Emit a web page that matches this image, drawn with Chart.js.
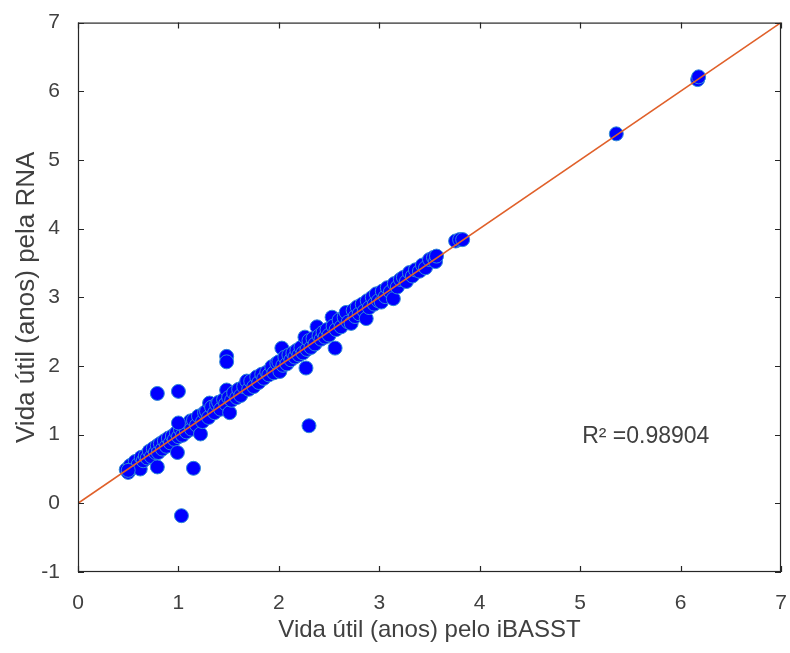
<!DOCTYPE html>
<html>
<head>
<meta charset="utf-8">
<script src="https://cdn.jsdelivr.net/npm/chart.js@4.4.1/dist/chart.umd.min.js"></script>
<style>
  html, body { margin: 0; padding: 0; background: #ffffff; }
  #wrap { width: 790px; height: 653px; }
</style>
</head>
<body>
<div id="wrap"><canvas id="scatterChart" width="790" height="653"></canvas></div>
<script>
// vida útil estimada pelo iBASST (x) e pela RNA (y)
const ibasstX = [
  0.48, 0.50, 0.52, 0.55, 0.57, 0.60, 0.62, 0.63, 0.65, 0.67,
  0.69, 0.71, 0.73, 0.75, 0.77, 0.79, 0.80, 0.82, 0.84, 0.86,
  0.88, 0.90, 0.92, 0.94, 0.96, 0.98, 1.00, 1.02, 1.04, 1.06,
  1.08, 1.10, 1.12, 1.13, 1.15, 1.18, 1.20, 1.22, 1.24, 1.26,
  1.28, 1.30, 1.31, 1.33, 1.36, 1.38, 1.40, 1.42, 1.45, 1.47,
  1.48, 1.50, 1.51, 1.53, 1.55, 1.58, 1.60, 1.62, 1.65, 1.68,
  1.70, 1.72, 1.75, 1.78, 1.80, 1.83, 1.85, 1.88, 1.90, 1.93,
  1.95, 1.98, 2.00, 2.01, 2.03, 2.04, 2.06, 2.08, 2.10, 2.12,
  2.14, 2.16, 2.18, 2.20, 2.22, 2.24, 2.26, 2.28, 2.30, 2.32,
  2.34, 2.36, 2.38, 2.40, 2.42, 2.44, 2.46, 2.48, 2.50, 2.53,
  2.54, 2.56, 2.57, 2.60, 2.62, 2.65, 2.67, 2.69, 2.72, 2.74,
  2.76, 2.78, 2.80, 2.83, 2.85, 2.87, 2.88, 2.90, 2.93, 2.95,
  2.97, 2.99, 3.02, 3.03, 3.06, 3.08, 3.11, 3.14, 3.15, 3.18,
  3.21, 3.24, 3.27, 3.30, 3.33, 3.36, 3.40, 3.43, 3.46, 3.50,
  3.54, 3.56, 3.57, 3.76, 3.80, 3.83, 5.36, 6.17, 6.18,
  0.79, 1.00, 1.48, 1.48, 2.30, 1.03, 0.79, 1.15, 0.99, 1.00,
  2.27, 0.50
];
const rnaY = [
  0.49, 0.45, 0.55, 0.52, 0.61, 0.57, 0.50, 0.67, 0.62, 0.69,
  0.66, 0.76, 0.68, 0.80, 0.74, 0.84, 0.74, 0.87, 0.79, 0.91,
  0.83, 0.95, 0.88, 0.98, 0.93, 1.03, 0.97, 1.08, 0.99, 1.12,
  1.04, 1.16, 1.20, 1.08, 1.21, 1.14, 1.27, 1.01, 1.19, 1.32,
  1.34, 1.25, 1.46, 1.40, 1.32, 1.44, 1.47, 1.37, 1.51, 1.45,
  1.65, 1.54, 1.32, 1.50, 1.61, 1.54, 1.66, 1.57, 1.70, 1.78,
  1.66, 1.78, 1.70, 1.84, 1.76, 1.88, 1.82, 1.91, 1.87, 1.99,
  1.90, 2.04, 2.06, 1.92, 2.26, 2.01, 2.13, 2.03, 2.16, 2.09,
  2.19, 2.13, 2.23, 2.16, 2.27, 2.19, 2.42, 2.24, 2.37, 2.27,
  2.40, 2.32, 2.57, 2.44, 2.39, 2.49, 2.42, 2.53, 2.45, 2.71,
  2.58, 2.26, 2.53, 2.67, 2.57, 2.71, 2.78, 2.64, 2.62, 2.81,
  2.72, 2.86, 2.76, 2.90, 2.80, 2.69, 2.95, 2.85, 3.00, 2.90,
  3.05, 2.95, 2.93, 3.09, 3.01, 3.14, 3.08, 2.98, 3.20, 3.15,
  3.26, 3.29, 3.23, 3.36, 3.31, 3.40, 3.38, 3.47, 3.43, 3.55,
  3.58, 3.52, 3.60, 3.82, 3.84, 3.84, 5.38, 6.17, 6.21,
  1.60, 1.63, 2.14, 2.06, 1.13, -0.18, 0.53, 0.51, 0.74, 1.17,
  1.97, 0.48
];
// reta de referência y = x
const lineX = [0, 7];
const lineY = [0, 7];
const xTicks = [0, 1, 2, 3, 4, 5, 6, 7];
const yTicks = [-1, 0, 1, 2, 3, 4, 5, 6, 7];
const r2Label = 'R² =0.98904';

const FONT = "'Liberation Sans', Arial, sans-serif";
const TEXT = '#404040';

const points = ibasstX.map((x, i) => ({ x: x, y: rnaY[i] }));
const linePts = lineX.map((x, i) => ({ x: x, y: lineY[i] }));

// moldura, marcas internas e texto do R²
const boxPlugin = {
  id: 'boxPlugin',
  afterDraw(chart) {
    const { ctx, chartArea: a, scales } = chart;
    const sx = scales.x, sy = scales.y;
    const len = 6;
    ctx.save();
    ctx.strokeStyle = '#262626';
    ctx.lineWidth = 1.2;
    ctx.strokeRect(a.left + 0.5, a.top + 0.5, a.right - a.left - 1, a.bottom - a.top - 1);
    ctx.beginPath();
    xTicks.forEach(v => {
      const px = Math.round(sx.getPixelForValue(v)) + 0.5;
      ctx.moveTo(px, a.bottom); ctx.lineTo(px, a.bottom - len);
      ctx.moveTo(px, a.top); ctx.lineTo(px, a.top + len);
    });
    yTicks.forEach(v => {
      const py = Math.round(sy.getPixelForValue(v)) + 0.5;
      ctx.moveTo(a.left, py); ctx.lineTo(a.left + len, py);
      ctx.moveTo(a.right, py); ctx.lineTo(a.right - len, py);
    });
    ctx.stroke();
    ctx.fillStyle = TEXT;
    ctx.font = '23px ' + FONT;
    ctx.textBaseline = 'middle';
    ctx.textAlign = 'left';
    ctx.fillText(r2Label, sx.getPixelForValue(5.02), sy.getPixelForValue(0.97));
    ctx.restore();
  }
};

const chart = new Chart(document.getElementById('scatterChart').getContext('2d'), {
  type: 'scatter',
  data: {
    datasets: [
      {
        type: 'line',
        data: linePts,
        borderColor: '#e0602a',
        borderWidth: 1.6,
        pointRadius: 0,
        fill: false,
        order: 0
      },
      {
        data: points,
        backgroundColor: '#0000ff',
        borderColor: '#2f8ad6',
        borderWidth: 1,
        pointRadius: 7,
        order: 1
      }
    ]
  },
  options: {
    responsive: false,
    animation: false,
    layout: { padding: { top: 18, right: 9, left: 0, bottom: 0 } },
    plugins: {
      legend: { display: false },
      tooltip: { enabled: false }
    },
    scales: {
      x: {
        type: 'linear',
        min: 0,
        max: 7,
        afterFit(scale) {
          scale.height = 81;
          scale.paddingLeft = 0;
          scale.paddingRight = 0;
        },
        afterBuildTicks(scale) { scale.ticks = xTicks.map(v => ({ value: v })); },
        grid: { display: false },
        border: { display: false },
        ticks: { color: TEXT, font: { family: FONT, size: 21 }, padding: 11, maxRotation: 0 },
        title: {
          display: true,
          text: 'Vida útil (anos) pelo iBASST',
          color: TEXT,
          font: { family: FONT, size: 24 },
          padding: { top: 0, bottom: 8 }
        }
      },
      y: {
        type: 'linear',
        min: -1,
        max: 7,
        afterFit(scale) { scale.width = 78; },
        afterBuildTicks(scale) { scale.ticks = yTicks.map(v => ({ value: v })); },
        grid: { display: false },
        border: { display: false },
        ticks: { color: TEXT, font: { family: FONT, size: 21 }, padding: 10 },
        title: {
          display: true,
          text: 'Vida útil (anos) pela RNA',
          color: TEXT,
          font: { family: FONT, size: 26 },
          padding: { top: 11, bottom: 0 }
        }
      }
    }
  },
  plugins: [boxPlugin]
});
</script>
</body>
</html>
